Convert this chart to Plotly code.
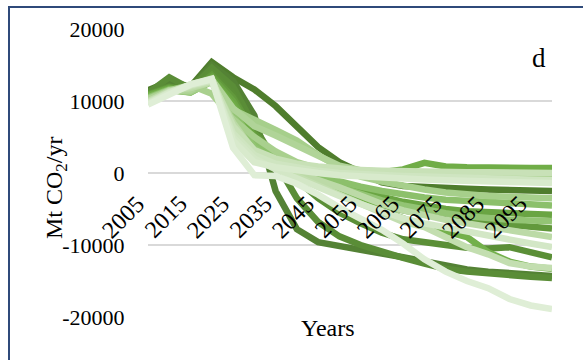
import plotly.graph_objects as go

# Net CO2 emission pathways, Mt CO2 per year, 2005-2100 in 5-year steps
years = list(range(2005, 2101, 5))

tick_years = list(range(2005, 2100, 10))
tick_labels = [str(y) for y in tick_years]
y_ticks = [-20000, -10000, 0, 10000, 20000]
y_tick_labels = ["-20000", "-10000", "0", "10000", "20000"]

s01 = [11500, 12700, 12000, 15400, 13300, 11600, 9300, 6400, 3600, 1500, 0, -1300, -1800, -2000, -2100, -2200, -2300, -2400, -2450, -2500]
s02 = [11300, 12400, 11800, 15000, 12800, 8000, -2500, -7800, -9600, -10200, -10700, -11200, -11700, -12300, -12900, -13400, -13700, -13900, -14100, -14300]
s03 = [11100, 13300, 11700, 14600, 12000, 6500, 1500, -3500, -6800, -8800, -10000, -11000, -11800, -12600, -13300, -13700, -14000, -14200, -14400, -14600]
s04 = [11000, 12000, 11500, 14000, 11000, 5000, 2000, -1000, -3500, -5500, -7000, -8300, -9200, -9700, -10000, -10400, -10500, -10300, -10900, -11700]
s05 = [10900, 11900, 11400, 13600, 10500, 5500, 2500, 500, -1200, -2500, -3500, -4500, -5200, -5800, -6300, -6700, -7000, -7200, -7400, -7700]
s06 = [10800, 11800, 11300, 13300, 10000, 5000, 2500, 800, -500, -1500, -2500, -3300, -4000, -4600, -5000, -5300, -5500, -5600, -5700, -5800]
s07 = [10700, 11700, 11400, 13000, 9500, 4500, 2500, 1200, 600, 200, 0, 100, 500, 1400, 900, 800, 700, 700, 700, 700]
s08 = [10600, 11600, 11200, 12800, 9000, 4000, 1500, 0, -1500, -2800, -4000, -5200, -6300, -7300, -8200, -8900, -11000, -12300, -13000, -13300]
s09 = [10500, 11600, 11300, 12900, 8500, 4000, 2000, 600, -400, -1200, -1900, -2500, -3000, -3400, -3700, -3900, -4100, -4300, -4400, -4500]
s10 = [10400, 11500, 11200, 12700, 8000, 3500, 1500, 200, -1000, -2000, -3000, -3800, -4500, -5100, -5600, -6000, -6300, -6500, -6600, -6700]
s11 = [10300, 11500, 11300, 12800, 8800, 7500, 6000, 4500, 2500, 800, -500, -1200, -1800, -2300, -2700, -3000, -3200, -3300, -3400, -3500]
s12 = [10200, 11400, 11500, 13000, 9000, 6500, 5200, 3800, 2200, 1000, 400, 100, 0, -100, -100, -200, -200, -200, -300, -300]
s13 = [10000, 11500, 12200, 11000, 7500, 5000, 3000, 1500, 600, 200, 0, -100, -200, -300, -300, -400, -400, -400, -500, -500]
s14 = [10000, 11400, 11800, 12600, 7000, 3000, 1200, 0, -1000, -2000, -3200, -4300, -5200, -5900, -6500, -7000, -7500, -8000, -8500, -8900]
s15 = [9900, 11300, 12000, 12700, 6000, 2500, 800, -500, -1800, -3000, -4300, -5600, -6800, -7500, -8800, -10300, -11300, -12500, -13000, -13200]
s16 = [9800, 11200, 12100, 12900, 6500, 3200, 2000, 1300, 900, 600, 400, 300, 200, 200, 100, 100, 100, 0, 0, 0]
s17 = [9700, 11200, 12200, 12800, 5500, 2500, 1300, 700, 300, 0, -200, -300, -400, -500, -600, -700, -800, -900, -950, -1000]
s18 = [9700, 11100, 12200, 13000, 5000, 2000, 500, -800, -2000, -3200, -4300, -5400, -6300, -7000, -7600, -8200, -8800, -9300, -9800, -10300]
s19 = [9600, 11100, 12300, 13100, 4500, 1500, 800, 300, 0, -300, -500, -700, -800, -900, -1000, -1100, -1200, -1300, -1350, -1400]
s20 = [9500, 11000, 12300, 13000, 3500, -300, -400, -1500, -3000, -4800, -6300, -7900, -9800, -12000, -13700, -15000, -16000, -17500, -18400, -18900]

series = [s01, s02, s03, s04, s05, s06, s07, s08, s09, s10,
          s11, s12, s13, s14, s15, s16, s17, s18, s19, s20]

# dark to light greens, drawn in that order so the pale lines sit on top
colors = ["#4f7d2d", "#548235", "#5a8d37", "#5b8f37", "#62993c",
          "#6aa543", "#70ad47", "#73b04b", "#8cc06b", "#93c474",
          "#a6cf8b", "#b0d498", "#a9d08e", "#bcdaa7", "#c3deb0",
          "#c8e1b7", "#cfe5c1", "#d3e7c6", "#d8eacc", "#dfeed6"]

W, H = 583, 360
L, R, T, B = 148, 31, 29, 43
pw, ph = W - L - R, H - T - B


def px(x):
    return (x - L) / pw


def py(y):
    return (H - B - y) / ph


SERIF = "Liberation Serif"

fig = go.Figure()
for vals, col in zip(series, colors):
    fig.add_trace(go.Scatter(x=years, y=vals, mode="lines",
                             line=dict(color=col, width=6.5),
                             showlegend=False, hoverinfo="skip"))

fig.update_layout(
    template="none",
    width=W, height=H,
    margin=dict(l=L, r=R, t=T, b=B, pad=0),
    paper_bgcolor="white", plot_bgcolor="white",
    xaxis=dict(range=[2005, 2100], showgrid=False, zeroline=False,
               showline=False, showticklabels=False, ticks=""),
    yaxis=dict(range=[-20000, 20000], tickmode="array", tickvals=y_ticks,
               ticktext=y_tick_labels, showgrid=True, gridcolor="#d9d9d9",
               gridwidth=1.5, zeroline=False, showline=False,
               ticks="outside", ticklen=18, tickcolor="rgba(0,0,0,0)",
               tickfont=dict(family=SERIF, size=22, color="black")),
)

# slanted year labels hanging just under the zero line
for yr, lab in zip(tick_years, tick_labels):
    fig.add_annotation(x=yr, y=0, xref="x", yref="y", text=lab,
                       textangle=-45, showarrow=False,
                       xanchor="right", yanchor="top", xshift=4, yshift=-15,
                       font=dict(family=SERIF, size=24, color="black"))

fig.add_annotation(x=px(39), y=py(188), xref="paper", yref="paper",
                   text="Mt CO<sub>2</sub>/yr", textangle=-90, showarrow=False,
                   font=dict(family=SERIF, size=24, color="black"))
fig.add_annotation(x=px(328), y=py(343), xref="paper", yref="paper",
                   text="Years", showarrow=False,
                   font=dict(family=SERIF, size=24, color="black"))
fig.add_annotation(x=px(548), y=py(41), xref="paper", yref="paper",
                   text="d", showarrow=False,
                   font=dict(family=SERIF, size=27, color="black"))

# outer frame around the panel
fig.add_shape(type="rect", xref="paper", yref="paper",
              x0=px(9), y0=py(390), x1=px(620), y1=py(7),
              line=dict(color="#2f4a7a", width=2), layer="above")

fig.write_html("out.html")
